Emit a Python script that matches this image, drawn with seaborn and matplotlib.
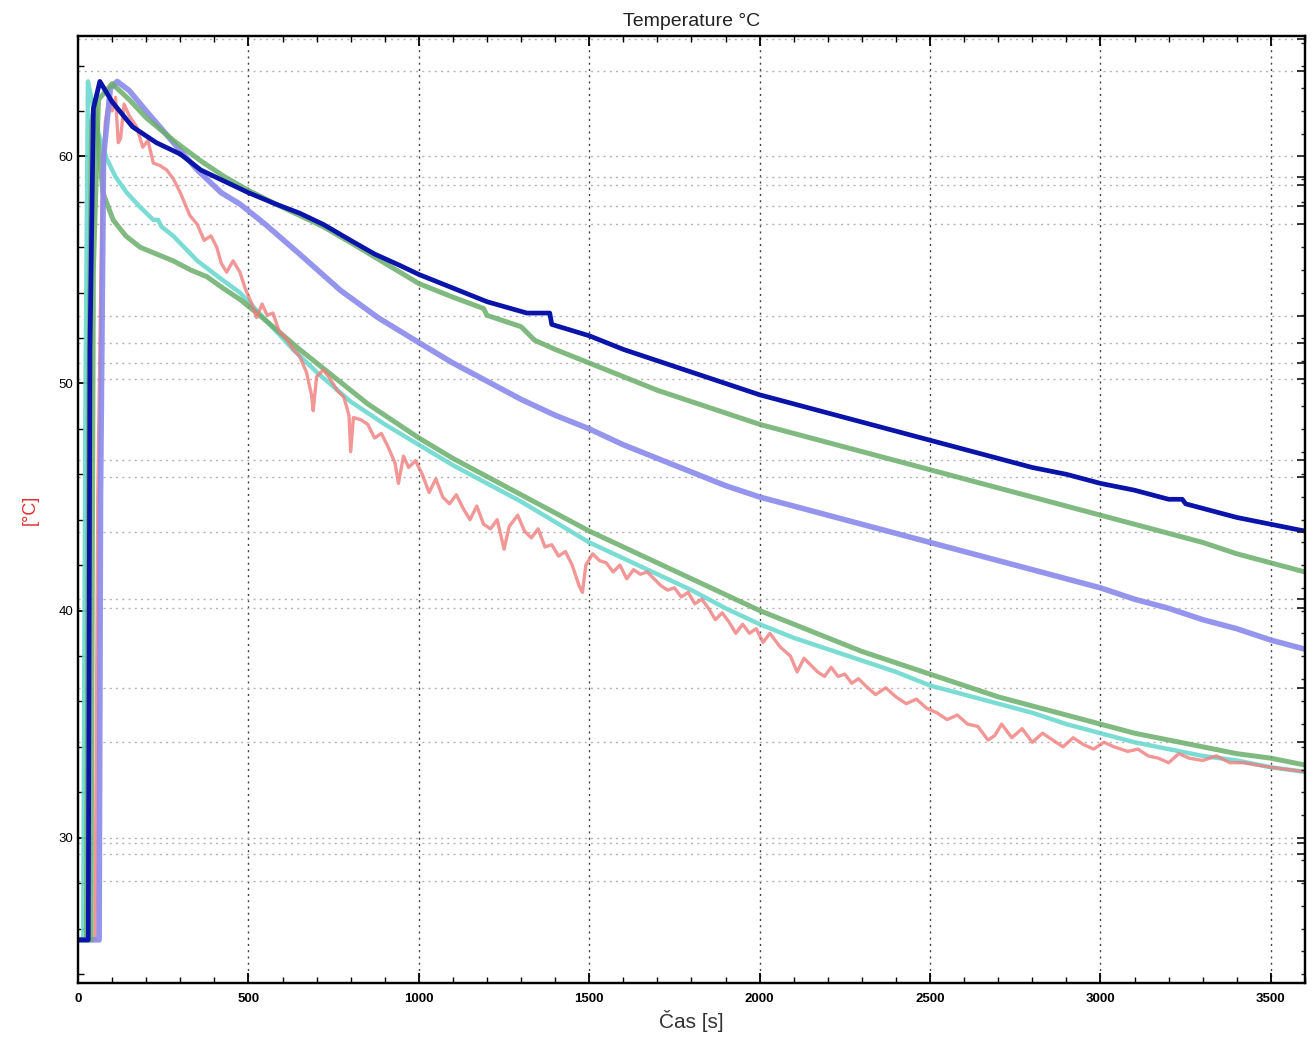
import numpy as np
import pandas as pd
import matplotlib
matplotlib.use("Agg")
import matplotlib.pyplot as plt
import seaborn as sns
from matplotlib.ticker import MultipleLocator, FixedLocator

# --- data (time [s], temperature [°C]) ---
t_dark = [0, 30, 35, 45, 64, 100, 160, 230, 300, 360, 430, 500, 580, 650, 720, 800, 870, 944,
          1000, 1100, 1200, 1317, 1384, 1390, 1500, 1600, 1700, 1800, 1900, 2000, 2100, 2200,
          2300, 2400, 2500, 2600, 2700, 2800, 2900, 3000, 3100, 3200, 3240, 3250, 3300, 3400,
          3500, 3600]
T_dark = [25.5, 25.5, 51.5, 62.1, 63.3, 62.4, 61.3, 60.6, 60.1, 59.4, 58.9, 58.4, 57.9, 57.5,
          57.0, 56.3, 55.7, 55.2, 54.8, 54.2, 53.6, 53.1, 53.1, 52.6, 52.1, 51.5, 51.0, 50.5,
          50.0, 49.5, 49.1, 48.7, 48.3, 47.9, 47.5, 47.1, 46.7, 46.3, 46.0, 45.6, 45.3, 44.9,
          44.9, 44.7, 44.5, 44.1, 43.8, 43.5]

t_green_up = [0, 38, 45, 60, 100, 150, 200, 280, 360, 430, 500, 580, 650, 720, 800, 900, 1000,
              1100, 1190, 1200, 1300, 1340, 1400, 1500, 1600, 1700, 1800, 1900, 2000, 2100,
              2200, 2300, 2400, 2500, 2600, 2700, 2800, 2900, 3000, 3100, 3200, 3300, 3400,
              3500, 3600]
T_green_up = [25.5, 25.5, 55.0, 62.5, 63.2, 62.5, 61.7, 60.7, 59.8, 59.1, 58.5, 57.9, 57.4,
              56.9, 56.2, 55.3, 54.4, 53.8, 53.3, 53.0, 52.5, 51.9, 51.5, 50.9, 50.3, 49.7,
              49.2, 48.7, 48.2, 47.8, 47.4, 47.0, 46.6, 46.2, 45.8, 45.4, 45.0, 44.6, 44.2,
              43.8, 43.4, 43.0, 42.5, 42.1, 41.7]

t_purple = [0, 62, 66, 75, 95, 115, 150, 200, 280, 350, 420, 475, 550, 650, 770, 880, 1000,
            1100, 1200, 1300, 1400, 1500, 1600, 1700, 1800, 1900, 2000, 2100, 2200, 2300,
            2400, 2500, 2600, 2700, 2800, 2900, 3000, 3100, 3200, 3300, 3400, 3500, 3600]
T_purple = [25.5, 25.5, 45.0, 60.0, 63.0, 63.3, 62.9, 62.0, 60.6, 59.4, 58.4, 57.9, 57.0,
            55.7, 54.1, 52.9, 51.8, 50.9, 50.1, 49.3, 48.6, 48.0, 47.3, 46.7, 46.1, 45.5,
            45.0, 44.6, 44.2, 43.8, 43.4, 43.0, 42.6, 42.2, 41.8, 41.4, 41.0, 40.5, 40.1,
            39.6, 39.2, 38.7, 38.3]

t_cyan = [0, 15, 22, 29, 40, 60, 84, 110, 143, 180, 221, 235, 245, 279, 350, 420, 475, 550,
          631, 700, 800, 900, 1000, 1100, 1200, 1300, 1400, 1500, 1600, 1700, 1800, 1900,
          2000, 2100, 2200, 2300, 2400, 2500, 2600, 2700, 2800, 2900, 3000, 3100, 3200, 3300,
          3400, 3500, 3600]
T_cyan = [25.5, 25.5, 50.0, 63.3, 62.5, 61.0, 59.9, 59.1, 58.4, 57.8, 57.2, 57.2, 56.9, 56.5,
          55.4, 54.6, 54.0, 52.8, 51.5, 50.5, 49.2, 48.2, 47.3, 46.4, 45.6, 44.8, 43.9, 43.0,
          42.3, 41.6, 40.9, 40.1, 39.4, 38.8, 38.3, 37.8, 37.3, 36.7, 36.3, 35.9, 35.5, 35.0,
          34.6, 34.2, 33.9, 33.6, 33.4, 33.1, 32.9]

t_green_low = [0, 25, 32, 40, 50, 60, 73, 103, 140, 182, 230, 279, 330, 378, 425, 475, 525,
               572, 650, 750, 850, 950, 1000, 1100, 1200, 1300, 1400, 1500, 1600, 1700, 1800,
               1900, 2000, 2100, 2200, 2300, 2400, 2500, 2600, 2700, 2800, 2900, 3000, 3100,
               3200, 3300, 3400, 3500, 3600]
T_green_low = [25.5, 25.5, 50.0, 61.5, 62.5, 60.5, 58.4, 57.2, 56.5, 56.0, 55.7, 55.4, 55.0,
               54.7, 54.2, 53.7, 53.1, 52.5, 51.5, 50.3, 49.1, 48.1, 47.6, 46.7, 45.9, 45.1,
               44.3, 43.5, 42.8, 42.1, 41.4, 40.7, 40.0, 39.4, 38.8, 38.2, 37.7, 37.2, 36.7,
               36.2, 35.8, 35.4, 35.0, 34.6, 34.3, 34.0, 33.7, 33.5, 33.2]

t_red = [0, 50, 58, 70, 80, 90, 100, 110, 118, 125, 135, 150, 172, 190, 205, 221, 240, 260,
         280, 300, 328, 350, 370, 390, 407, 420, 436, 455, 475, 490, 510, 524, 540, 555, 572,
         590, 610, 631, 650, 670, 685, 690, 700, 720, 740, 760, 780, 795, 800, 808, 830, 850,
         870, 890, 910, 930, 940, 955, 970, 990, 1010, 1030, 1050, 1070, 1090, 1110, 1130,
         1150, 1170, 1190, 1210, 1230, 1250, 1265, 1290, 1310, 1330, 1350, 1370, 1390, 1410,
         1430, 1450, 1470, 1480, 1490, 1510, 1530, 1550, 1570, 1590, 1610, 1630, 1650, 1670,
         1690, 1710, 1730, 1750, 1770, 1790, 1810, 1830, 1850, 1870, 1890, 1910, 1930, 1950,
         1970, 1990, 2010, 2030, 2060, 2090, 2110, 2130, 2150, 2170, 2190, 2210, 2230, 2250,
         2270, 2290, 2310, 2340, 2370, 2400, 2430, 2460, 2490, 2520, 2550, 2580, 2610, 2640,
         2670, 2690, 2710, 2740, 2770, 2800, 2830, 2860, 2890, 2920, 2950, 2980, 3010, 3040,
         3080, 3110, 3140, 3170, 3200, 3230, 3260, 3300, 3340, 3380, 3420, 3460, 3500, 3550,
         3600]
T_red = [25.5, 25.5, 45.0, 58.0, 61.5, 62.5, 62.0, 62.6, 60.6, 60.8, 62.3, 61.8, 61.3, 60.4,
         60.7, 59.7, 59.6, 59.4, 59.0, 58.4, 57.4, 57.0, 56.3, 56.5, 56.0, 55.3, 54.9, 55.4,
         54.9, 54.2, 53.5, 52.9, 53.5, 53.0, 53.1, 52.3, 52.0, 51.5, 51.2, 50.5, 49.5, 48.8,
         50.3, 50.6, 50.2, 49.7, 49.4, 48.6, 47.0, 48.5, 48.4, 48.2, 47.6, 47.8, 47.2, 46.5,
         45.6, 46.8, 46.3, 46.6, 46.0, 45.2, 45.8, 45.0, 44.7, 45.1, 44.5, 44.0, 44.6, 43.8,
         43.6, 44.0, 42.7, 43.7, 44.2, 43.5, 43.2, 43.6, 42.8, 42.9, 42.4, 42.6, 42.0, 41.1,
         40.8, 42.0, 42.5, 42.2, 42.1, 41.7, 42.0, 41.4, 41.8, 41.6, 41.7, 41.4, 41.1, 40.9,
         41.0, 40.6, 40.8, 40.3, 40.5, 40.1, 39.6, 39.9, 39.5, 39.0, 39.4, 39.0, 39.2, 38.6,
         39.0, 38.4, 38.0, 37.3, 37.9, 37.6, 37.3, 37.1, 37.5, 37.1, 37.2, 36.8, 37.0, 36.7,
         36.3, 36.6, 36.2, 35.9, 36.1, 35.7, 35.5, 35.2, 35.4, 35.0, 34.9, 34.3, 34.5, 35.0,
         34.4, 34.8, 34.2, 34.6, 34.3, 34.0, 34.4, 34.1, 33.9, 34.2, 34.0, 33.8, 33.9, 33.6,
         33.5, 33.3, 33.7, 33.5, 33.4, 33.6, 33.3, 33.3, 33.2, 33.1, 33.0, 32.9]

# irregular dotted horizontal grid lines seen in the plot
h_grid = [65.15, 63.75, 60.0, 59.1, 58.75, 57.8, 57.0, 52.95, 51.8, 50.9, 50.2, 46.65, 45.9,
          43.45, 40.5, 40.1, 36.6, 34.2, 30.0, 29.75, 29.3, 28.1]

series = [
    (t_cyan, T_cyan, "#6cd9cf", 3.2, 0.9),
    (t_green_low, T_green_low, "#6aae6a", 3.6, 0.85),
    (t_red, T_red, "#f07c7c", 2.4, 0.8),
    (t_purple, T_purple, "#8a8aec", 4.0, 0.9),
    (t_green_up, T_green_up, "#6aae6a", 3.6, 0.85),
    (t_dark, T_dark, "#0a14a8", 3.4, 1.0),
]

sns.set_theme(style="white")
plt.rcParams['font.family'] = ['Liberation Sans', 'DejaVu Sans']

fig = plt.figure(figsize=(13.16, 10.43), dpi=100)
ax = fig.add_axes([0.0593, 0.0575, 0.9323, 0.908])

for tt, TT, col, lw, a in series:
    d = pd.DataFrame({"t": tt, "T": TT})
    sns.lineplot(data=d, x="t", y="T", ax=ax, color=col, lw=lw, alpha=a,
                 sort=False, estimator=None)

ax.set_xlim(0, 3600)
ax.set_ylim(23.6, 65.3)

# grid
for v in range(500, 3600, 500):
    ax.axvline(v, color="#444444", lw=1.0, ls=(0, (1.5, 3)), zorder=0)
for h in h_grid:
    ax.axhline(h, color="#b4b4b4", lw=1.0, ls=(0, (1.5, 3)), zorder=0)

ax.xaxis.set_major_locator(MultipleLocator(500))
ax.xaxis.set_minor_locator(MultipleLocator(100))
ax.yaxis.set_major_locator(MultipleLocator(10))
ax.yaxis.set_minor_locator(MultipleLocator(2))
ax.tick_params(which="both", direction="in", top=True, left=True, bottom=True,
               colors="black")
ax.tick_params(which="major", length=7, width=1.3, labelsize=9.5)
ax.tick_params(axis="x", which="major", pad=7)
ax.tick_params(which="minor", length=4, width=1.0)
for lab in ax.get_xticklabels():
    lab.set_fontweight("bold")

axr = ax.twinx()
axr.set_ylim(ax.get_ylim())
axr.yaxis.set_major_locator(FixedLocator(h_grid))
axr.yaxis.set_minor_locator(MultipleLocator(1))
axr.tick_params(which="both", direction="in", labelright=False)
axr.tick_params(which="major", length=6, width=1.3)
axr.tick_params(which="minor", length=3, width=1.0)

for sp in list(ax.spines.values()) + list(axr.spines.values()):
    sp.set_color("black")
    sp.set_linewidth(1.6)

ax.set_title("Temperature °C", fontsize=14, pad=7, color="#222222")
ax.set_xlabel("Čas [s]", fontsize=15, labelpad=4, color="#333333")
ax.set_ylabel("[°C]", fontsize=13, color="#e03030", labelpad=14)

fig.savefig("out.png", dpi=100)
